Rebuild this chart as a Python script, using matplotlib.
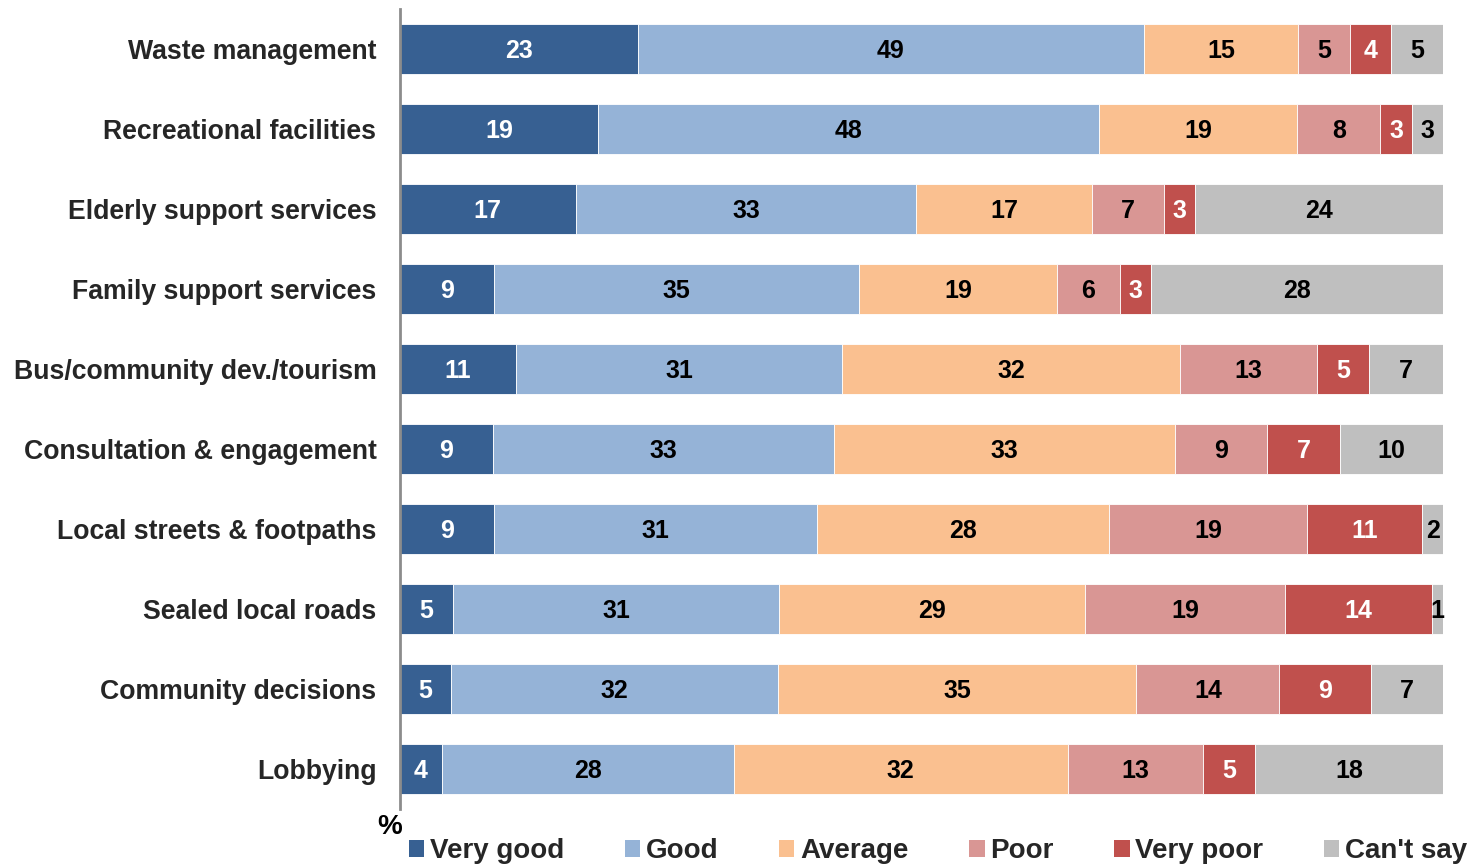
import matplotlib
matplotlib.use("Agg")
import matplotlib.pyplot as plt
from matplotlib.patches import Patch
import numpy as np

plt.rcParams['font.family'] = ['Liberation Sans', 'DejaVu Sans']

categories = [
    "Waste management",
    "Recreational facilities",
    "Elderly support services",
    "Family support services",
    "Bus/community dev./tourism",
    "Consultation & engagement",
    "Local streets & footpaths",
    "Sealed local roads",
    "Community decisions",
    "Lobbying",
]
series_names = ["Very good", "Good", "Average", "Poor", "Very poor", "Can't say"]
very_good = [23, 19, 17, 9, 11, 9, 9, 5, 5, 4]
good = [49, 48, 33, 35, 31, 33, 31, 31, 32, 28]
average = [15, 19, 17, 19, 32, 33, 28, 29, 35, 32]
poor = [5, 8, 7, 6, 13, 9, 19, 19, 14, 13]
very_poor = [4, 3, 3, 3, 5, 7, 11, 14, 9, 5]
cant_say = [5, 3, 24, 28, 7, 10, 2, 1, 7, 18]

colors = ["#376092", "#95B3D7", "#FAC090", "#D99694", "#C0504D", "#BFBFBF"]
label_colors = ["white", "black", "black", "black", "white", "black"]

values = np.array([very_good, good, average, poor, very_poor, cant_say], dtype=float)
# 100% stacked: each row scaled to its own total
shares = values / values.sum(axis=0) * 100

fig = plt.figure(figsize=(14.74, 8.67), dpi=100)
ax = fig.add_axes([400 / 1474, 1 - 809 / 867, 1043 / 1474, 800 / 867])

y = np.arange(len(categories))
left = np.zeros(len(categories))
for i, name in enumerate(series_names):
    bars = ax.barh(y, shares[i], left=left, height=0.625, color=colors[i],
                   edgecolor="white", linewidth=0.6, label=name)
    for j, b in enumerate(bars):
        cx = left[j] + shares[i][j] / 2
        ax.text(cx, y[j], f"{int(values[i][j])}", ha="center",
                va="center_baseline", fontsize=18, fontweight="bold",
                color=label_colors[i])
    left += shares[i]

ax.set_xlim(0, 100)
ax.set_ylim(len(categories) - 0.5, -0.5)
ax.set_yticks(y)
ax.set_yticklabels(categories, fontsize=19.2, fontweight="bold", color="#262626")
ax.tick_params(axis="y", length=0, pad=17)
ax.set_xticks([])
for s in ["top", "right", "bottom"]:
    ax.spines[s].set_visible(False)
ax.spines["left"].set_color("#8C8C8C")
ax.spines["left"].set_linewidth(2)

fig.text(390 / 1474, 1 - 827 / 867, "%", ha="center", va="center",
         fontsize=20, fontweight="bold", color="black")

handles = [Patch(facecolor=c, edgecolor="none") for c in colors]
fig.legend(handles, series_names, loc="upper left", ncol=6,
           bbox_to_anchor=(409 / 1474, 1 - 838 / 867), frameon=False,
           prop={"size": 20, "weight": "bold"}, labelcolor="#262626",
           handlelength=0.55, handleheight=0.55, handletextpad=0.2,
           columnspacing=2.19, borderpad=0, borderaxespad=0)

fig.savefig("out.png", dpi=100)
